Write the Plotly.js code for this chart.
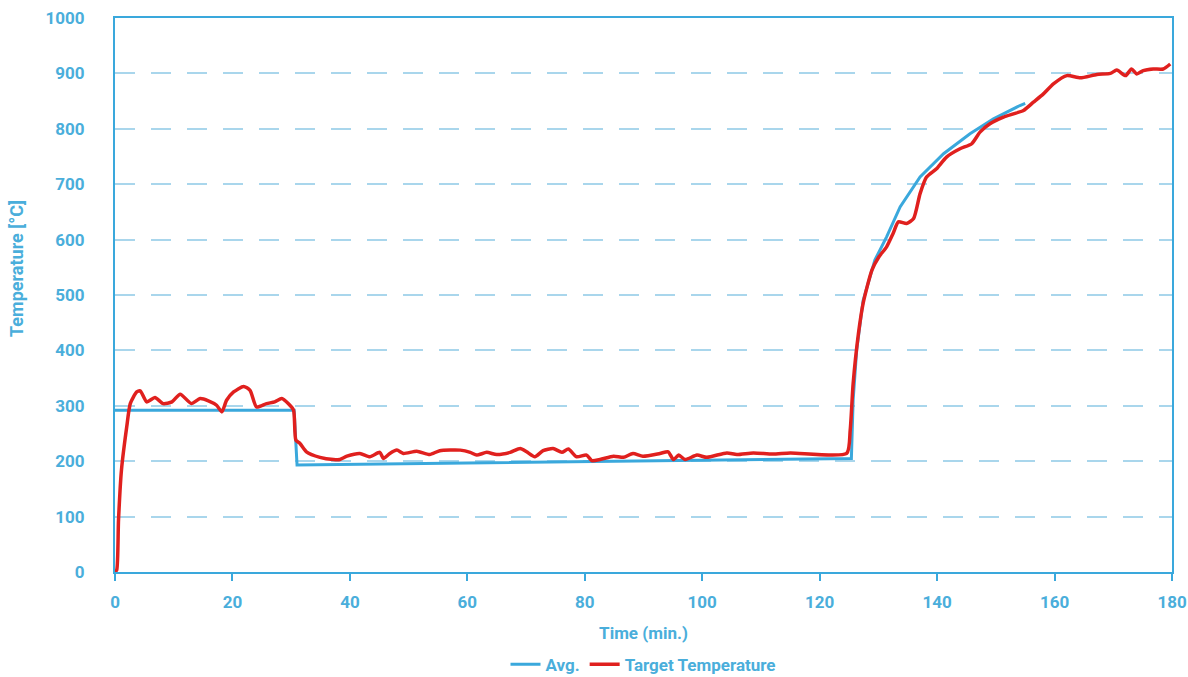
<!DOCTYPE html>
<html>
<head>
<meta charset="utf-8">
<script src="https://cdn.plot.ly/plotly-3.0.1.min.js"></script>
<style>html,body{margin:0;padding:0;background:#fff;}#chart{width:1188px;height:677px;}</style>
</head>
<body>
<div id="chart"></div>
<script>
// Avg. series (time in min, temperature in °C)
const avgTime = [0, 30.5, 31, 125, 125.4, 125.7, 126.3, 127.4, 129.4, 131.4, 133.7, 137.1, 141.1, 145.6, 149.6, 154.1, 155];
const avgTemp = [292, 292, 193, 205, 205, 310, 400, 490, 563, 605, 659, 713, 755, 791, 818, 842, 846];

// Target Temperature series
const targetTime = [0, 0.3, 0.6, 1.1, 2.0, 2.6, 3.7, 4.3, 5.4, 6.8, 8.2, 9.7, 11.1, 13.0, 14.5, 15.9, 17.3, 18.2, 19.0, 20.2, 21.9, 23.0, 24.1, 25.8, 27.2, 28.4, 29.5, 30.4, 30.8, 31.5, 32.6, 34.9, 37.2, 38.3, 39.5, 41.7, 43.4, 45.1, 45.7, 46.8, 48.0, 49.1, 51.4, 53.6, 55.3, 58.8, 60.5, 61.6, 63.3, 65.0, 67.3, 69.0, 70.1, 71.5, 72.9, 74.6, 76.1, 77.2, 78.6, 80.3, 81.2, 82.6, 84.9, 86.6, 88.2, 89.9, 92.8, 94.2, 95.1, 96.0, 97.1, 99.1, 100.8, 104.2, 105.9, 108.7, 112.0, 115.0, 124.6, 125.2, 125.7, 126.6, 127.4, 128.9, 130.1, 131.4, 132.5, 133.4, 134.8, 136.0, 137.1, 138.2, 139.9, 141.6, 143.9, 145.9, 147.3, 149.0, 151.3, 153.0, 154.7, 156.4, 158.1, 159.8, 162.1, 164.4, 167.2, 169.5, 170.6, 172.1, 173.1, 174.0, 175.1, 176.8, 178.5, 179.7];
const targetTemp = [0, 4, 94, 184, 262, 304, 325, 327, 307, 315, 304, 307, 321, 304, 313, 309, 301, 289, 310, 325, 335, 328, 298, 304, 307, 313, 304, 292, 238, 232, 217, 207, 203, 203, 209, 214, 208, 216, 205, 214, 220, 214, 218, 212, 219, 220, 216, 211, 216, 212, 216, 223, 217, 208, 219, 223, 216, 222, 208, 211, 201, 203, 209, 207, 214, 209, 214, 217, 203, 211, 203, 211, 207, 215, 212, 215, 213, 215, 214, 256, 340, 430, 485, 545, 569, 587, 611, 632, 629, 638, 683, 713, 728, 749, 764, 773, 794, 809, 821, 827, 833, 848, 863, 881, 896, 892, 898, 900, 906, 896, 908, 899, 905, 908, 908, 917];

const xTicks = [0, 20, 40, 60, 80, 100, 120, 140, 160, 180];
const yTicks = [0, 100, 200, 300, 400, 500, 600, 700, 800, 900, 1000];

const blue = '#3aa8dc';
const textBlue = '#4aaedb';
const red = '#e0201e';
const fontFam = 'Roboto, "DejaVu Sans", sans-serif';
const f = (s) => ({family: fontFam, color: textBlue, size: s, weight: 'bold'});

const traces = [
  {x: avgTime, y: avgTemp, type: 'scatter', mode: 'lines', name: 'Avg.',
   line: {color: blue, width: 3}},
  {x: targetTime, y: targetTemp, type: 'scatter', mode: 'lines', name: 'Target Temperature',
   line: {color: red, width: 3.5, shape: 'spline', smoothing: 0.6}}
];

const layout = {
  width: 1188, height: 677,
  margin: {l: 115, r: 16, t: 18, b: 105, autoexpand: false},
  paper_bgcolor: '#ffffff', plot_bgcolor: '#ffffff',
  font: f(17),
  showlegend: true,
  legend: {orientation: 'h', x: 0.5, xanchor: 'center', y: -0.135, yanchor: 'top', font: f(17), itemwidth: 30},
  xaxis: {
    range: [0, 180], tickvals: xTicks, ticktext: xTicks.map(String),
    showline: true, linecolor: blue, linewidth: 2, mirror: true,
    showgrid: false, zeroline: false,
    ticks: 'outside', ticklen: 7, tickcolor: blue, tickwidth: 1.5,
    ticklabelstandoff: 7,
    tickfont: f(17),
    title: {text: 'Time (min.)', standoff: 16, font: f(17)}
  },
  yaxis: {
    range: [0, 1000], tickvals: yTicks, ticktext: yTicks.map(String),
    showline: true, linecolor: blue, linewidth: 2, mirror: true,
    showgrid: true, gridcolor: '#a9d6ec', gridwidth: 1.5, griddash: '20px,16px',
    zeroline: false, ticks: '',
    ticklabelstandoff: 25,
    tickfont: f(17)
  },
  annotations: [{
    text: 'Temperature [°C]', textangle: -90, showarrow: false,
    xref: 'paper', yref: 'paper', x: -0.0927, y: 0.547, xanchor: 'center', yanchor: 'middle',
    font: f(18)
  }]
};

Plotly.newPlot('chart', traces, layout, {displayModeBar: false, responsive: false});
</script>
</body>
</html>
